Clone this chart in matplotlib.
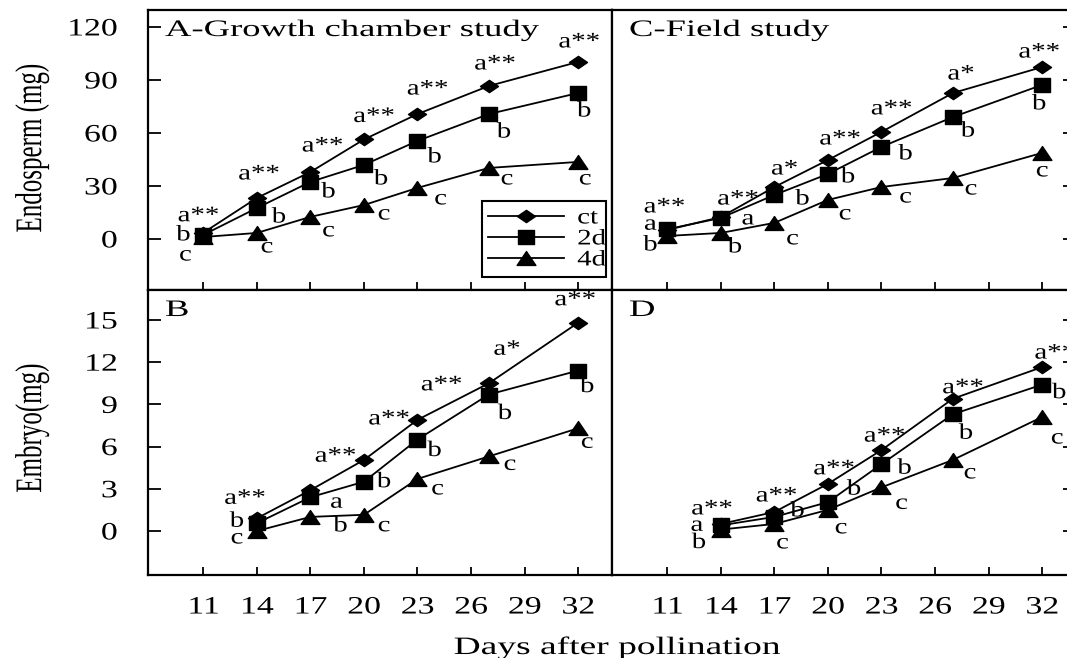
import matplotlib
matplotlib.use('Agg')
import matplotlib.pyplot as plt
from matplotlib.path import Path
from matplotlib.patheffects import AbstractPathEffect
from matplotlib.transforms import Affine2D

# ---------------- data ----------------
days_endo = [11, 14, 17, 20, 23, 27, 32]
days_embryo = [14, 17, 20, 23, 27, 32]
series_names = ['ct', '2d', '4d']

# A - Growth chamber, endosperm (mg)
A_ct = [3.5, 23.2, 37.9, 56.3, 70.7, 86.6, 100.2]
A_2d = [2.3, 17.5, 32.3, 41.9, 55.5, 70.7, 82.6]
A_4d = [1.1, 3.4, 12.5, 19.2, 28.9, 40.2, 43.6]
A_sig_ct = ['a**', 'a**', 'a**', 'a**', 'a**', 'a**', 'a**']
A_sig_2d = ['b', 'b', 'b', 'b', 'b', 'b', 'b']
A_sig_4d = ['c', 'c', 'c', 'c', 'c', 'c', 'c']

# C - Field study, endosperm (mg)
C_ct = [5.1, 12.4, 29.4, 44.7, 60.6, 82.6, 97.3]
C_2d = [5.5, 11.9, 24.9, 36.8, 52.1, 69.0, 87.2]
C_4d = [1.7, 3.4, 9.1, 22.1, 29.4, 34.5, 48.7]
C_sig_ct = ['a**', 'a**', 'a*', 'a**', 'a**', 'a*', 'a**']
C_sig_2d = ['a', 'a', 'b', 'b', 'b', 'b', 'b']
C_sig_4d = ['b', 'b', 'c', 'c', 'c', 'c', 'c']

# B - Growth chamber, embryo (mg)
B_ct = [0.9, 2.9, 5.05, 7.9, 10.5, 14.8]
B_2d = [0.55, 2.4, 3.5, 6.5, 9.7, 11.4]
B_4d = [0.0, 1.0, 1.15, 3.7, 5.3, 7.3]
B_sig_ct = ['a**', 'a**', 'a**', 'a**', 'a*', 'a**']
B_sig_2d = ['b', 'a', 'b', 'b', 'b', 'b']
B_sig_4d = ['c', 'b', 'c', 'c', 'c', 'c']

# D - Field study, embryo (mg)
D_ct = [0.5, 1.35, 3.35, 5.75, 9.4, 11.65]
D_2d = [0.4, 1.0, 2.05, 4.75, 8.3, 10.4]
D_4d = [0.1, 0.5, 1.5, 3.1, 5.05, 8.1]
D_sig_ct = ['a**', 'a**', 'a**', 'a**', 'a**', 'a**']
D_sig_2d = ['a', 'b', 'b', 'b', 'b', 'b']
D_sig_4d = ['b', 'c', 'c', 'c', 'c', 'c']

x_ticks = [11, 14, 17, 20, 23, 26, 29, 32]
endo_ticks = [0, 30, 60, 90, 120]
embryo_ticks = [0, 3, 6, 9, 12, 15]

panel_titles = ['A-Growth chamber study', 'C-Field study', 'B', 'D']
ylabel_endo = 'Endosperm (mg)'
ylabel_embryo = 'Embryo(mg)'
xlabel_text = 'Days after pollination'

# ---------------- layout (pixel offsets of letter labels) ----------------
A_off = [[(-5, -16), (2, -23), (12, -25), (10, -22), (10, -24), (6, -21), (1, -19)],
         [(-20, 1), (22, 10), (18, 11), (17, 15), (17, 17), (15, 19), (6, 19)],
         [(-18, 19), (10, 15), (18, 15), (20, 10), (23, 12), (18, 12), (7, 18)]]
C_off = [[(-3, -22), (17, -17), (10, -17), (12, -20), (10, -22), (8, -18), (-3, -14)],
         [(-17, -4), (27, 2), (28, 5), (20, 4), (24, 8), (15, 15), (-3, 20)],
         [(-17, 10), (14, 15), (18, 17), (17, 15), (24, 11), (18, 12), (0, 19)]]
B_off = [[(-12, -19), (25, -33), (25, -40), (24, -34), (18, -33), (-3, -22)],
         [(-20, -1), (26, 6), (20, 1), (17, 12), (16, 20), (9, 17)],
         [(-20, 8), (30, 10), (20, 12), (20, 11), (21, 9), (9, 15)]]
D_off = [[(-9, -14), (2, -15), (6, -14), (3, -13), (10, -10), (13, -13)],
         [(-24, 1), (23, -5), (26, -12), (23, 5), (13, 20), (17, 9)],
         [(-22, 14), (8, 20), (13, 19), (20, 17), (17, 14), (15, 22)]]


class HStretch(AbstractPathEffect):
    """Widen rendered glyphs horizontally (the reference figure is stretched)."""
    def __init__(self, sx, anchor='center'):
        super().__init__()
        self.sx = sx
        self.anchor = anchor

    def draw_path(self, renderer, gc, tpath, affine, rgbFace=None):
        if len(tpath.vertices) == 0:
            return
        v = affine.transform(tpath.vertices)
        x0, x1 = v[:, 0].min(), v[:, 0].max()
        if self.anchor == 'left':
            a = x0
        elif self.anchor == 'right':
            a = x1
        else:
            a = 0.5 * (x0 + x1)
        t = affine + Affine2D().translate(-a, 0).scale(self.sx, 1).translate(a, 0)
        renderer.draw_path(gc, tpath, t, rgbFace)


plt.rcParams['font.family'] = ['Liberation Serif', 'DejaVu Serif']

W, H = 1067, 658
fig = plt.figure(figsize=(W / 100, H / 100), dpi=100)


def rect(x0, y0, x1, y1):
    return [x0 / W, 1 - y1 / H, (x1 - x0) / W, (y1 - y0) / H]


diamond = Path([(-1, 0), (0, 0.68), (1, 0), (0, -0.68), (-1, 0)],
               [Path.MOVETO, Path.LINETO, Path.LINETO, Path.LINETO, Path.CLOSEPOLY])
square = Path([(-1, -0.78), (1, -0.78), (1, 0.78), (-1, 0.78), (-1, -0.78)],
              [Path.MOVETO, Path.LINETO, Path.LINETO, Path.LINETO, Path.CLOSEPOLY])
triangle = Path([(0, 0.74), (-1, -0.74), (1, -0.74), (0, 0.74)],
                [Path.MOVETO, Path.LINETO, Path.LINETO, Path.CLOSEPOLY])
markers = [diamond, square, triangle]
msizes = [13, 12, 13.5]

panels = [
    dict(r=(148, 10, 612, 290), days=days_endo, vals=(A_ct, A_2d, A_4d),
         sig=(A_sig_ct, A_sig_2d, A_sig_4d), off=A_off, title=panel_titles[0],
         ylim=(-28.9, 129.6), yt=endo_ticks, left=True, bottom=False),
    dict(r=(612, 10, 1076, 290), days=days_endo, vals=(C_ct, C_2d, C_4d),
         sig=(C_sig_ct, C_sig_2d, C_sig_4d), off=C_off, title=panel_titles[1],
         ylim=(-28.9, 129.6), yt=endo_ticks, left=False, bottom=False),
    dict(r=(148, 290, 612, 575), days=days_embryo, vals=(B_ct, B_2d, B_4d),
         sig=(B_sig_ct, B_sig_2d, B_sig_4d), off=B_off, title=panel_titles[2],
         ylim=(-3.13, 17.13), yt=embryo_ticks, left=True, bottom=True),
    dict(r=(612, 290, 1076, 575), days=days_embryo, vals=(D_ct, D_2d, D_4d),
         sig=(D_sig_ct, D_sig_2d, D_sig_4d), off=D_off, title=panel_titles[3],
         ylim=(-3.13, 17.13), yt=embryo_ticks, left=False, bottom=True),
]

axes = []
for p in panels:
    ax = fig.add_axes(rect(*p['r']))
    axes.append(ax)
    for s in ax.spines.values():
        s.set_linewidth(1.6)
    for k in range(3):
        ax.plot(p['days'], p['vals'][k], color='k', lw=1.3, marker=markers[k],
                ms=msizes[k], mfc='k', mec='k', label=series_names[k], zorder=3)
        for i, d in enumerate(p['days']):
            dx, dy = p['off'][k][i]
            t = ax.annotate(p['sig'][k][i], xy=(d, p['vals'][k][i]), xytext=(dx, -dy),
                            textcoords='offset pixels', ha='center', va='center',
                            fontsize=16, zorder=4, annotation_clip=False)
            t.set_path_effects([HStretch(1.3, 'center')])
    ax.set_xlim(7.9, 33.9)
    ax.set_ylim(*p['ylim'])
    ax.set_xticks(x_ticks)
    ax.set_yticks(p['yt'])
    ax.tick_params(axis='x', direction='in', length=6, width=1.3, pad=15.5,
                   labelsize=18, top=False, labelbottom=p['bottom'])
    ax.tick_params(axis='y', direction='in', length=9.5, width=1.3, pad=22,
                   labelsize=18)
    if not p['left']:
        ax.yaxis.set_ticks_position('right')
        ax.tick_params(axis='y', labelleft=False, labelright=False)
    for lbl in ax.get_xticklabels():
        lbl.set_path_effects([HStretch(1.35, 'center')])
    for lbl in ax.get_yticklabels():
        lbl.set_path_effects([HStretch(1.35, 'right')])
    tt = ax.annotate(p['title'], xy=(0, 1), xycoords='axes fraction',
                     xytext=(17, -26), textcoords='offset pixels',
                     ha='left', va='baseline', fontsize=17)
    tt.set_path_effects([HStretch(1.55, 'left')])

leg = axes[0].legend(loc='lower right', bbox_to_anchor=(0.987, 0.046),
                     borderaxespad=0, fontsize=16, handlelength=3.4,
                     handletextpad=0.6, labelspacing=0.02, borderpad=0.3,
                     fancybox=False, framealpha=1, edgecolor='k')
leg.get_frame().set_linewidth(1.5)
for t in leg.get_texts():
    t.set_path_effects([HStretch(1.3, 'left')])

yl1 = fig.text(32 / W, 1 - 148 / H, ylabel_endo, rotation=90, ha='center',
               va='center', fontsize=18)
yl1.set_path_effects([HStretch(1.5, 'center')])
yl2 = fig.text(32 / W, 1 - 428 / H, ylabel_embryo, rotation=90, ha='center',
               va='center', fontsize=18)
yl2.set_path_effects([HStretch(1.5, 'center')])
xl = fig.text(617 / W, 1 - 654 / H, xlabel_text, ha='center', va='baseline',
              fontsize=18)
xl.set_path_effects([HStretch(1.5, 'center')])

fig.savefig('out.png', dpi=100, facecolor='white')
